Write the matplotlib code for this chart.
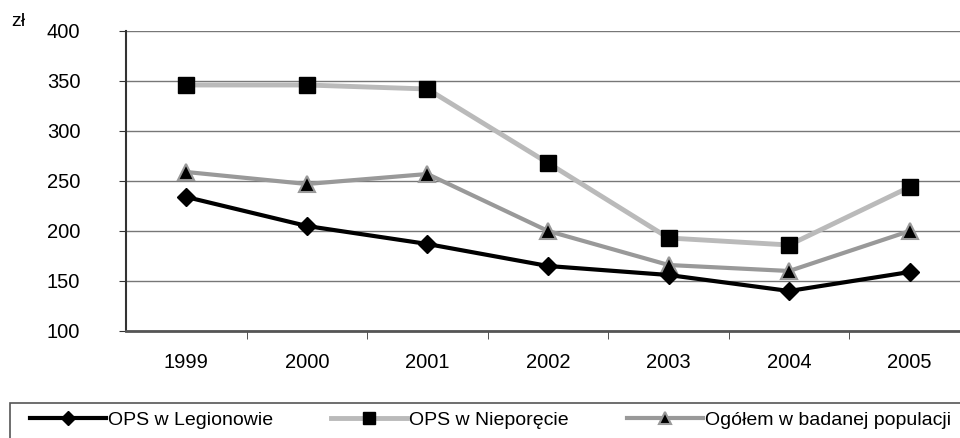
import numpy as np
from matplotlib import pyplot as plt
from matplotlib.patches import Rectangle

years = ['1999', '2000', '2001', '2002', '2003', '2004', '2005']
legionowo = [234, 205, 187, 165, 156, 140, 159]
nieporet = [346, 346, 342, 268, 193, 186, 244]
ogolem = [259, 247, 257, 200, 166, 160, 200]

plt.rcParams['font.family'] = ['Liberation Sans', 'DejaVu Sans']

fig = plt.figure(figsize=(9.6, 4.38), dpi=100)
ax = fig.add_axes([126 / 960, 107 / 438, 844 / 960, 300 / 438])

x = np.arange(len(years))
ax.plot(x, legionowo, color='black', lw=3, marker='D', ms=9,
        mfc='black', mec='black', label='OPS w Legionowie', zorder=5)
ax.plot(x, nieporet, color='#bababa', lw=3.5, marker='s', ms=12,
        mfc='black', mec='black', label='OPS w Nieporęcie', zorder=3)
ax.plot(x, ogolem, color='#999999', lw=3, marker='^', ms=11,
        mfc='black', mec='#999999', mew=1.5, label='Ogółem w badanej populacji', zorder=4)

ax.set_xlim(-0.5, 6.5)
ax.set_ylim(100, 400)
ax.set_yticks(range(100, 401, 50))
ax.set_xticks(x)
ax.set_xticklabels(years)
ax.set_xticks(np.arange(0.5, 6.5, 1), minor=True)
ax.tick_params(axis='x', which='major', length=0, pad=16, labelsize=14.5)
ax.tick_params(axis='x', which='minor', length=6, direction='out', color='#333333')
ax.tick_params(axis='y', length=5, labelsize=14.5, pad=52, color='#333333')
for lbl in ax.get_yticklabels():
    lbl.set_horizontalalignment('left')

ax.grid(axis='y', color='#777777', lw=1)
ax.set_axisbelow(True)
for s in ['top', 'right']:
    ax.spines[s].set_visible(False)
ax.spines['left'].set_color('#333333')
ax.spines['left'].set_linewidth(1.5)
ax.spines['bottom'].set_color('#555555')
ax.spines['bottom'].set_linewidth(2)

fig.text(11 / 960, 1 - 22 / 438, 'zł', fontsize=14, va='center')

# legend frame drawn by hand, runs off the right and bottom edge
fig.patches.append(Rectangle((10 / 960, -0.02), 1.0, (438 - 403) / 438 + 0.02,
                             transform=fig.transFigure, fill=False,
                             edgecolor='#555555', lw=1.2))

leg = fig.legend(loc='center left', bbox_to_anchor=(30 / 960, 1 - 420 / 438),
                 ncol=3, frameon=False, fontsize=14,
                 handlelength=3.9, handletextpad=0.1, columnspacing=3.0,
                 borderpad=0, borderaxespad=0)
for h in leg.legend_handles:
    h.set_markersize(h.get_markersize() * 0.75)

fig.savefig('out.png', dpi=100)
plt.close(fig)
